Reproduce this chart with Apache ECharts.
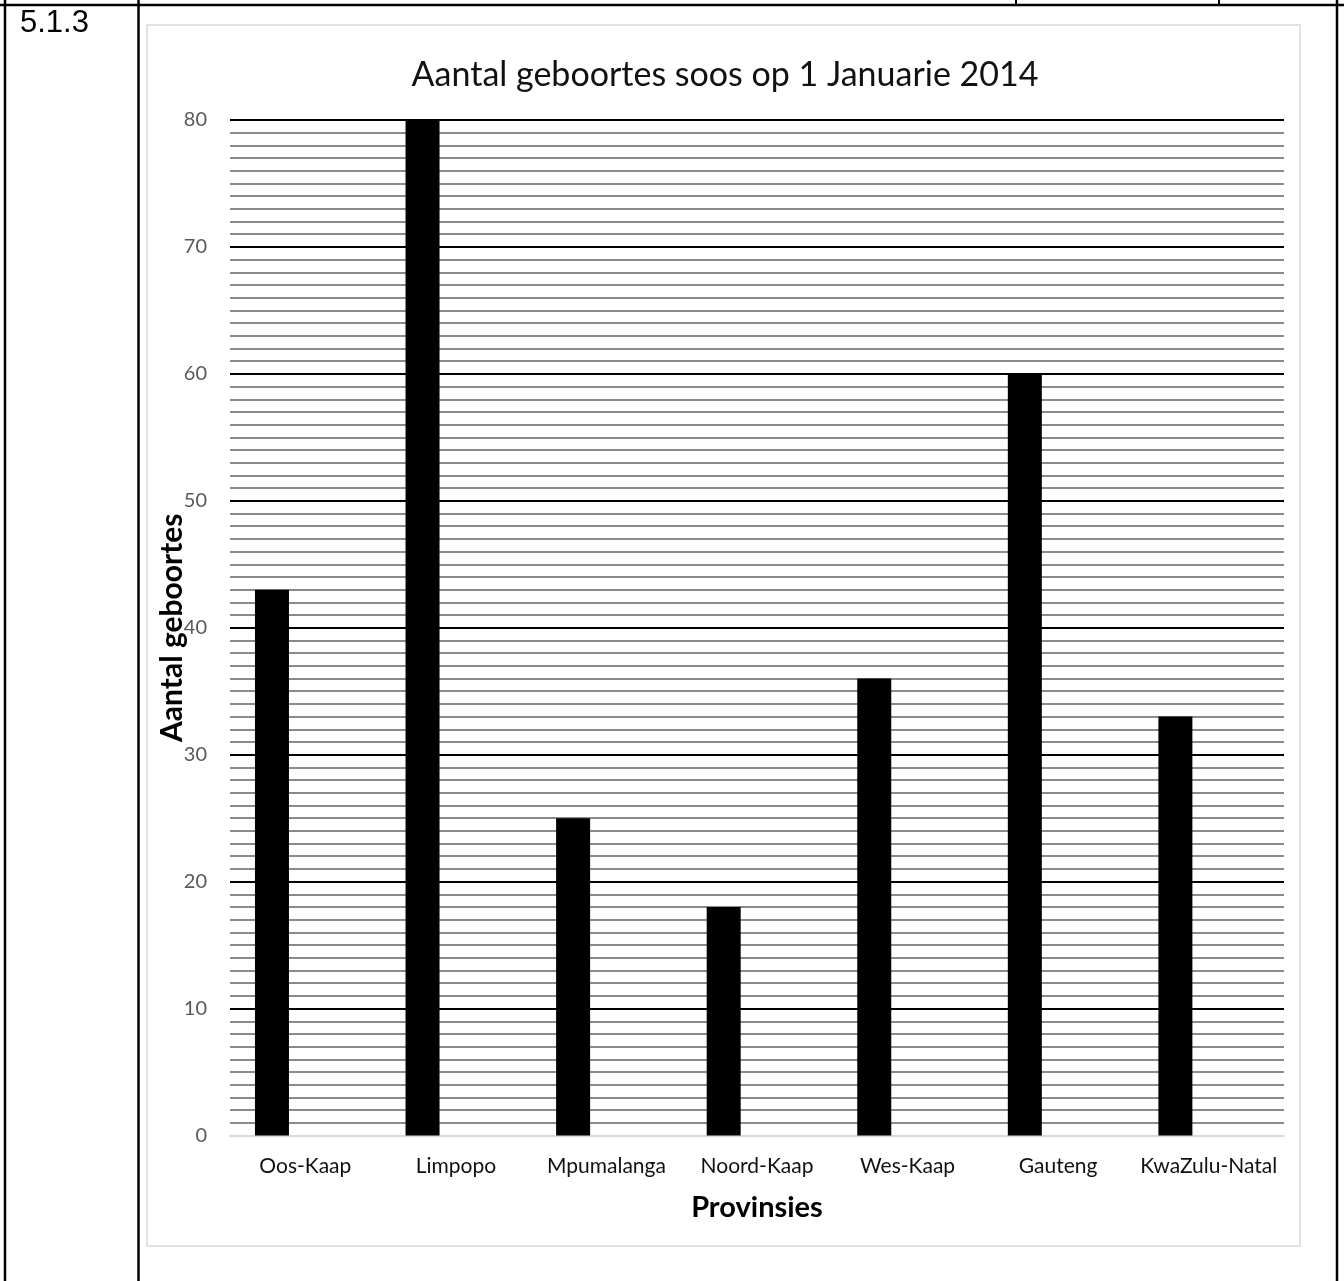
<!DOCTYPE html>
<html>
<head>
<meta charset="utf-8">
<script src="https://cdn.jsdelivr.net/npm/echarts@6/dist/echarts.min.js"></script>
<style>
html,body{margin:0;padding:0;background:#fff;}
#chart{width:1344px;height:1281px;}
</style>
</head>
<body>
<div id="chart"></div>
<script>
const questionNumber = '5.1.3';
const chartTitle = 'Aantal geboortes soos op 1 Januarie 2014';
const yAxisTitle = 'Aantal geboortes';
const xAxisTitle = 'Provinsies';
const provinces = ['Oos-Kaap', 'Limpopo', 'Mpumalanga', 'Noord-Kaap', 'Wes-Kaap', 'Gauteng', 'KwaZulu-Natal'];
const births = [43, 80, 25, 18, 36, 60, 33];
const emptySeries = [null, null, null, null, null, null, null];

const chart = echarts.init(document.getElementById('chart'), null, {renderer: 'canvas'});
const font = 'Lato, "Open Sans", sans-serif';

chart.setOption({
  backgroundColor: '#ffffff',
  animation: false,
  title: {
    text: chartTitle,
    left: 720, top: 53, textAlign: 'center',
    textStyle: {fontFamily: font, fontSize: 34, fontWeight: 'normal', color: '#111'}
  },
  grid: {left: 230, right: 60, top: 120, bottom: 145.5, containLabel: false},
  xAxis: {
    type: 'category',
    data: provinces,
    name: xAxisTitle,
    nameLocation: 'middle',
    nameGap: 58,
    nameMoveOverlap: false,
    nameTextStyle: {fontFamily: font, fontSize: 29, fontWeight: 'bold', color: '#000'},
    axisLine: {show: true, lineStyle: {color: '#d9d9d9', width: 2}},
    axisTick: {show: false},
    axisLabel: {interval: 0, fontFamily: font, fontSize: 21, color: '#111', margin: 20},
    splitLine: {show: false}
  },
  yAxis: {
    type: 'value',
    min: 0, max: 80, interval: 10,
    name: yAxisTitle,
    nameLocation: 'middle',
    nameGap: 43,
    nameMoveOverlap: false,
    nameTextStyle: {fontFamily: font, fontSize: 30, fontWeight: 'bold', color: '#000'},
    axisLine: {show: false},
    axisTick: {show: false},
    axisLabel: {fontFamily: font, fontSize: 20, color: '#595959', margin: 23},
    splitLine: {show: true, lineStyle: {color: '#000', width: 2}},
    minorTick: {show: false, splitNumber: 10},
    minorSplitLine: {show: true, lineStyle: {color: '#666', width: 1.5}}
  },
  series: [
    {type: 'bar', data: births, barWidth: 34, barGap: '96%', itemStyle: {color: '#000'}, z: 3},
    {type: 'bar', data: emptySeries, barWidth: 34, itemStyle: {color: '#000'}}
  ],
  graphic: [
    {type: 'rect', shape: {x: 147, y: 25, width: 1153, height: 1221}, style: {fill: null, stroke: '#d9d9d9', lineWidth: 1.5}, z: -1, silent: true},
    {type: 'line', shape: {x1: 0, y1: 5, x2: 1344, y2: 5}, style: {stroke: '#000', lineWidth: 2.5}},
    {type: 'line', shape: {x1: 5, y1: 0, x2: 5, y2: 1281}, style: {stroke: '#000', lineWidth: 2.5}},
    {type: 'line', shape: {x1: 138.5, y1: 0, x2: 138.5, y2: 1281}, style: {stroke: '#000', lineWidth: 2.5}},
    {type: 'line', shape: {x1: 1337, y1: 0, x2: 1337, y2: 1281}, style: {stroke: '#000', lineWidth: 2.5}},
    {type: 'line', shape: {x1: 1016, y1: 0, x2: 1016, y2: 5}, style: {stroke: '#000', lineWidth: 2}},
    {type: 'line', shape: {x1: 1219, y1: 0, x2: 1219, y2: 5}, style: {stroke: '#000', lineWidth: 2}},
    {type: 'text', left: 20, top: 8, style: {text: questionNumber, font: '31px "Liberation Sans", Arial, sans-serif', fill: '#000'}}
  ]
});
</script>
</body>
</html>
